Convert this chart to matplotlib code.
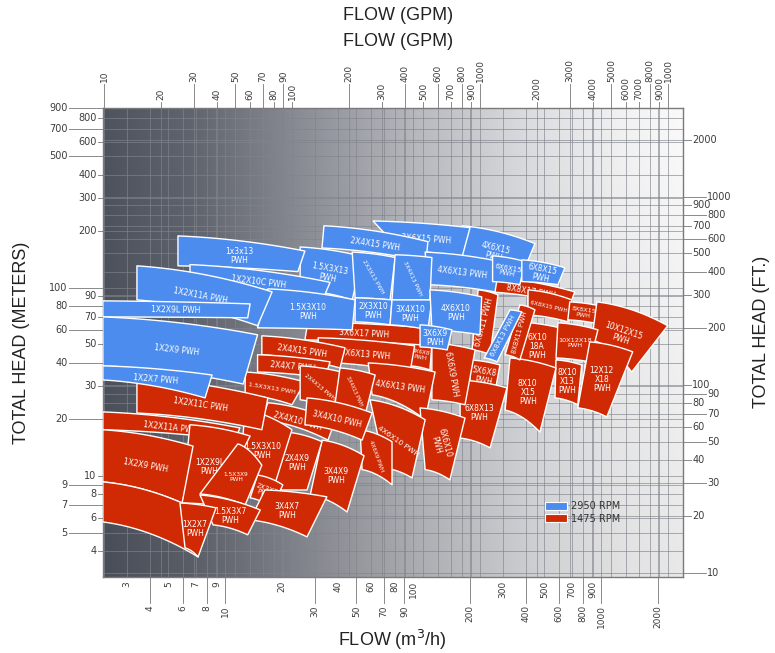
import numpy as np
import matplotlib
matplotlib.use("Agg")
import matplotlib.pyplot as plt
from matplotlib.patches import Polygon, Patch
import matplotlib.transforms as mtransforms

# ---------------- data ----------------
tile_names = [
    "8X8X17 PWH", "6X8X15 PWH", "8X8X15\nPWH", "10X12X15\nPWH", "6X10\n18A\nPWH",
    "10X12X18\nPWH", "12X12\nX18\nPWH", "8X10\nX13\nPWH", "8X10\nX15\nPWH", "6X6X11 PWH",
    "8X8X11 PWH", "5X6X8\nPWH", "6X8X13\nPWH", "4X6X8\nPWH", "6X6X9 PWH",
    "3X6X17 PWH", "3X6X13 PWH", "4X6X13 PWH", "6X6X10\nPWH", "4X6X10 PWH",
    "4X6X9 PWH", "2X4X15 PWH", "2X4X7 PWH", "1.5X3X13 PWH", "2X4X13 PWH",
    "3X4X13 PWH", "2X4X10 PWH", "3X4X10 PWH", "3X4X9\nPWH", "2X4X9\nPWH",
    "1.5X3X10\nPWH", "2X3X7\nPWH", "3X4X7\nPWH", "1X2X11C PWH", "1X2X11A PWH",
    "1X2X9L\nPWH", "1X2X9 PWH", "", "1.5X3X9\nPWH", "1.5X3X7\nPWH",
    "1X2X7\nPWH",
    "4X6X15\nPWH", "3X6X15 PWH", "2X4X15 PWH", "4X6X13 PWH", "6X6X15\nPWH",
    "6X8X15\nPWH", "1.5X3X13\nPWH", "2X3X13 PWH", "3X4X13 PWH", "2X3X10\nPWH",
    "3X4X10\nPWH", "4X6X10\nPWH", "3X6X9\nPWH", "6X8X13 PWH", "1x3x13\nPWH",
    "1X2X10C PWH", "1.5X3X10\nPWH", "1X2X11A PWH", "1X2X9L PWH", "1X2X9 PWH",
    "1X2X7 PWH",
]
tile_rpm = [1475] * 41 + [2950] * 21

# corner flows (m3/h) and heads (m): top-left, top-right, bottom-right, bottom-left
q_tl = [257, 409, 682, 951, 361, 590, 871, 576, 328, 222,
        370, 201, 178, 96.4, 126, 27.6, 31.3, 57.8, 109, 59.1,
        52.3, 15.7, 14.9, 12.8, 25.1, 40.9, 16.9, 27.3, 32.8, 21.3,
        12.8, 14.9, 16.3, 3.40, 2.24, 6.51, 2.24, 2.24, 11.7, 7.36,
        5.76,
        182, 61.3, 33.6, 116, 265, 379, 25.1, 47.5, 80.3, 49.2,
        77.3, 123, 109, 328, 5.62, 6.51, 16.9, 3.40, 2.24, 2.24,
        2.24]
h_tl = [114, 97.6, 84.2, 84.2, 66.0, 65.2, 51.6, 41.4, 42.4, 97.6,
        81.2, 41.4, 32.4, 52.9, 51.0, 66.0, 54.3, 39.9, 23.0, 25.4,
        17.6, 55.6, 44.1, 35.7, 38.5, 37.5, 24.5, 26.0, 15.5, 17.1,
        22.4, 10.1, 8.42, 33.2, 21.9, 18.7, 17.6, 9.29, 14.8, 7.92,
        7.18,
        214, 227, 214, 155, 148, 141, 165, 155, 150, 88.5,
        86.3, 97.6, 63.6, 76.4, 189, 133, 98.8, 131, 85.3, 70.1,
        38.5]
q_tr = [725, 699, 985, 2264, 604, 963, 1474, 789, 576, 283,
        445, 290, 316, 126, 214, 116, 102, 131, 189, 116,
        77.3, 43.5, 36.2, 26.6, 43.5, 62.9, 38.4, 60.6, 54.9, 32.8,
        22.7, 20.3, 34.8, 16.9, 12.0, 13.6, 6.76, 5.91, 15.7, 15.4,
        8.96,
        445, 201, 120, 290, 394, 642, 53.6, 80.3, 126, 77.3,
        126, 232, 161, 379, 26.6, 36.2, 49.2, 17.8, 13.6, 14.9,
        8.53]
h_tr = [95.2, 86.3, 80.2, 62.9, 61.3, 59.8, 45.7, 38.9, 37.5, 91.8,
        76.4, 38.9, 29.4, 50.4, 46.8, 61.3, 49.2, 35.7, 20.3, 19.9,
        15.2, 48.0, 40.4, 31.6, 35.3, 34.4, 19.6, 21.6, 12.8, 15.2,
        17.6, 8.96, 7.74, 26.0, 18.0, 16.3, 14.4, 7.18, 11.4, 6.59,
        6.76,
        172, 209, 176, 138, 138, 128, 147, 145, 145, 86.3,
        86.3, 89.6, 59.8, 74.5, 157, 107, 86.3, 95.2, 82.2, 56.3,
        34.4]
q_br = [682, 666, 951, 1456, 569, 871, 1073, 752, 473, 257,
        370, 273, 257, 123, 189, 109, 96.4, 116, 157, 98.8,
        77.3, 40.9, 34.0, 22.7, 37.1, 55.6, 35.3, 53.6, 44.6, 27.3,
        17.8, 17.8, 27.3, 15.7, 11.3, 8.85, 5.91, 7.19, 12.8, 13.2,
        7.19,
        370, 182, 117, 273, 370, 590, 47.5, 75.5, 123, 75.5,
        120, 227, 152, 280, 24.4, 33.6, 47.5, 14.9, 13.2, 12.5,
        7.83]
h_br = [81.2, 66.0, 64.6, 35.7, 34.4, 40.4, 20.6, 23.9, 17.1, 44.1,
        41.4, 28.0, 14.1, 36.6, 23.9, 49.8, 35.7, 19.9, 9.52, 9.76,
        8.96, 37.5, 33.2, 23.9, 22.4, 21.1, 15.5, 15.5, 6.43, 8.42,
        8.12, 6.76, 4.74, 17.6, 15.5, 7.01, 7.18, 3.71, 7.01, 4.86,
        3.71,
        110, 145, 138, 95.2, 104, 104, 86.3, 86.3, 86.3, 63.6,
        59.8, 56.3, 46.8, 40.4, 122, 89.6, 59.8, 62.9, 69.3, 30.8,
        26.0]
q_bl = [257, 409, 666, 893, 349, 576, 752, 569, 309, 206,
        309, 201, 178, 96.4, 126, 26.6, 31.3, 60.6, 116, 71.0,
        53.6, 15.7, 14.9, 12.8, 25.1, 38.4, 15.7, 26.6, 28.4, 18.0,
        12.0, 13.6, 13.6, 3.40, 2.24, 5.91, 2.24, 2.24, 7.36, 8.64,
        6.13,
        182, 85.3, 32.8, 120, 265, 379, 25.1, 49.2, 77.3, 49.2,
        75.5, 126, 109, 239, 5.62, 6.51, 14.9, 3.40, 2.24, 2.24,
        2.24]
h_bl = [95.2, 71.8, 67.6, 52.9, 41.4, 42.4, 23.0, 26.0, 22.4, 46.8,
        44.1, 29.4, 15.9, 38.5, 25.4, 52.9, 40.4, 27.0, 10.8, 11.0,
        10.8, 44.1, 35.7, 27.0, 25.4, 23.9, 19.9, 18.7, 7.92, 8.42,
        10.8, 7.64, 5.83, 21.6, 17.6, 7.18, 9.29, 5.69, 8.02, 5.49,
        4.14,
        138, 159, 163, 104, 108, 108, 97.6, 88.5, 86.3, 66.0,
        63.6, 59.8, 48.5, 42.4, 131, 104, 61.3, 86.3, 70.1, 38.5,
        32.4]

# label rotation (None = follow the top edge of the tile)
label_rot = [None, None, None, None, 0, 0, 0, 0, 0, 75,
             75, None, 0, None, -80, None, None, None, -75, -35,
             -70, None, None, None, -40, -65, None, None, 0, 0,
             0, -20, 0, None, None, 0, None, None, 0, 0,
             0,
             None, None, None, None, None, None, -10, -60, -65, 0,
             0, 0, 0, 62, 0, None, 0, None, None, None,
             None]

flow_row1 = [3, 5, 7, 9, 20, 40, 60, 80, 100, 300, 500, 700, 900]
flow_row2 = [4, 6, 8, 10, 30, 50, 70, 90, 200, 400, 600, 800, 1000, 2000]
gpm_row1 = [10, 30, 50, 70, 90, 200, 400, 600, 800, 1000, 3000, 5000, 8000, 10000]
gpm_row1_labels = ["10", "30", "50", "70", "90", "200", "400", "600", "800",
                   "1000", "3000", "5000", "8000", "1000"]
gpm_row2 = [20, 40, 60, 80, 100, 300, 500, 700, 900, 2000, 4000, 6000, 7000, 9000]
head_m_far = [900, 700, 500, 100, 80, 60, 40, 20, 9, 7, 5]
head_m_near = [800, 600, 400, 300, 200, 90, 70, 50, 30, 10, 8, 6, 4]
head_ft_near = [2000, 900, 700, 500, 300, 100, 80, 60, 40, 20]
head_ft_far = [1000, 800, 600, 400, 200, 90, 70, 50, 30, 10]
legend_labels = ["2950 RPM", "1475 RPM"]

M3H_PER_GPM = 1 / 4.403
M_PER_FT = 1 / 3.281

# ---------------- style ----------------
BLUE = "#4b8cee"
RED = "#d02a05"
colors = {2950: BLUE, 1475: RED}
TXT = "#3c3c3c"

fig = plt.figure(figsize=(7.75, 6.53), dpi=100)
ax = fig.add_axes([103 / 775, 1 - 577 / 653, 580 / 775, 469 / 653])
ax.set_xscale("log")
ax.set_yscale("log")
ax.set_xlim(2.244, 2729)
ax.set_ylim(2.90, 905)
ax.set_xticks([])
ax.set_yticks([])
ax.minorticks_off()
for s in ax.spines.values():
    s.set_color("#7a7a7a")
    s.set_linewidth(1.0)

# background gradient
stops = [(0.0, (78, 83, 94)), (0.15, (96, 100, 110)), (0.35, (140, 143, 150)),
         (0.55, (185, 187, 192)), (0.75, (222, 223, 226)), (0.9, (242, 242, 243)),
         (1.0, (250, 250, 250))]
fx = np.linspace(0, 1, 400)
sx = [s[0] for s in stops]
base = np.stack([np.interp(fx, sx, [s[1][c] for s in stops]) for c in range(3)], axis=-1) / 255
fy = np.linspace(1, 0, 60)[:, None, None]
img = base[None, :, :] * (0.93 + 0.07 * fy)
ax.imshow(np.clip(img, 0, 1), extent=[0, 1, 0, 1], transform=ax.transAxes,
          aspect="auto", zorder=0, interpolation="bilinear")

# grid
gcol = "#80848c"
for q in flow_row1 + flow_row2:
    ax.axvline(q, color=gcol, lw=0.6, alpha=0.75, zorder=1)
for g in gpm_row1 + gpm_row2:
    ax.axvline(g * M3H_PER_GPM, color=gcol, lw=0.6, alpha=0.75, zorder=1)
for h in head_m_far + head_m_near:
    ax.axhline(h, color=gcol, lw=0.6, alpha=0.75, zorder=1)
for f in head_ft_near + head_ft_far:
    ax.axhline(f * M_PER_FT, color=gcol, lw=0.6, alpha=0.75, zorder=1)


def edge(q0, h0, q1, h1, n=30):
    t = np.linspace(0, 1, n)
    lq = np.log10(q0) + (np.log10(q1) - np.log10(q0)) * t
    s = 0.35 * t + 0.65 * t ** 2
    lh = np.log10(h0) + (np.log10(h1) - np.log10(h0)) * s
    return 10 ** lq, 10 ** lh


for i, name in enumerate(tile_names):
    tq, th = edge(q_tl[i], h_tl[i], q_tr[i], h_tr[i])
    bq, bh = edge(q_bl[i], h_bl[i], q_br[i], h_br[i])
    xs = np.concatenate([tq, bq[::-1]])
    ys = np.concatenate([th, bh[::-1]])
    z = 2 + i * 0.02
    poly = Polygon(np.column_stack([xs, ys]), closed=True, facecolor=colors[tile_rpm[i]],
                   edgecolor="white", lw=1.0, joinstyle="round", zorder=z)
    ax.add_patch(poly)
    if not name:
        continue
    # label
    lq = np.mean(np.log10([q_tl[i], q_tr[i], q_br[i], q_bl[i]]))
    lh = np.mean(np.log10([h_tl[i], h_tr[i], h_br[i], h_bl[i]]))
    p_tl = ax.transData.transform((q_tl[i], h_tl[i]))
    p_tr = ax.transData.transform((q_tr[i], h_tr[i]))
    p_bl = ax.transData.transform((q_bl[i], h_bl[i]))
    rot = label_rot[i]
    if rot is None:
        rot = np.degrees(np.arctan2(p_tr[1] - p_tl[1], p_tr[0] - p_tl[0]))
    nchar = max(len(s) for s in name.split("\n"))
    if abs(rot) > 45:
        span = np.hypot(*(p_tl - p_bl))
    else:
        span = np.hypot(*(p_tr - p_tl))
    fs = float(np.clip(span * 0.78 / (0.85 * nchar), 3.6, 5.5))
    ax.text(10 ** lq, 10 ** lh, name, color="white", fontsize=fs, rotation=rot,
            ha="center", va="center", ma="center", zorder=z + 0.01,
            family="DejaVu Sans", linespacing=1.0, rotation_mode="anchor")

# ---------------- ticks outside ----------------
bx = mtransforms.blended_transform_factory(ax.transData, ax.transAxes)
by = mtransforms.blended_transform_factory(ax.transAxes, ax.transData)
tcol = "#8a8a8a"
tfs = 6.5

for q in flow_row1:
    ax.text(q, -0.008, str(q), transform=bx, rotation=90, ha="center", va="top",
            fontsize=tfs, color=TXT, clip_on=False)
for q in flow_row2:
    ax.plot([q, q], [0, -0.055], transform=bx, color=tcol, lw=0.7, clip_on=False)
    ax.text(q, -0.060, str(q), transform=bx, rotation=90, ha="center", va="top",
            fontsize=tfs, color=TXT, clip_on=False)

for g, lab in zip(gpm_row1, gpm_row1_labels):
    q = g * M3H_PER_GPM
    ax.plot([q, q], [1, 1.052], transform=bx, color=tcol, lw=0.7, clip_on=False)
    ax.text(q, 1.055, lab, transform=bx, rotation=90, ha="center", va="bottom",
            fontsize=tfs, color=TXT, clip_on=False)
for g in gpm_row2:
    q = g * M3H_PER_GPM
    ax.plot([q, q], [1, 1.013], transform=bx, color=tcol, lw=0.7, clip_on=False)
    ax.text(q, 1.016, str(g), transform=bx, rotation=90, ha="center", va="bottom",
            fontsize=tfs, color=TXT, clip_on=False)

for h in head_m_far:
    ax.plot([-0.058, 0], [h, h], transform=by, color=tcol, lw=0.7, clip_on=False)
    ax.text(-0.061, h, str(h), transform=by, ha="right", va="center",
            fontsize=7, color=TXT, clip_on=False)
for h in head_m_near:
    ax.plot([-0.008, 0], [h, h], transform=by, color=tcol, lw=0.7, clip_on=False)
    ax.text(-0.011, h, str(h), transform=by, ha="right", va="center",
            fontsize=7, color=TXT, clip_on=False)

for f in head_ft_near:
    h = f * M_PER_FT
    ax.plot([1, 1.013], [h, h], transform=by, color=tcol, lw=0.7, clip_on=False)
    ax.text(1.016, h, str(f), transform=by, ha="left", va="center",
            fontsize=7, color=TXT, clip_on=False)
for f in head_ft_far:
    h = f * M_PER_FT
    ax.plot([1, 1.039], [h, h], transform=by, color=tcol, lw=0.7, clip_on=False)
    ax.text(1.042, h, str(f), transform=by, ha="left", va="center",
            fontsize=7, color=TXT, clip_on=False)

# ---------------- titles ----------------
tfont = dict(family="Liberation Sans", fontsize=13, color="#222222")
fig.text(398 / 775, 1 - 15 / 653, "FLOW (GPM)", ha="center", va="center", **tfont)
fig.text(398 / 775, 1 - 42 / 653, "FLOW (GPM)", ha="center", va="center", **tfont)
fig.text(392 / 775, 1 - 640 / 653, "FLOW (m$^3$/h)", ha="center", va="center", **tfont)
fig.text(22 / 775, 1 - 343 / 653, "TOTAL HEAD (METERS)", rotation=90,
         ha="center", va="center", **tfont)
fig.text(762 / 775, 1 - 332 / 653, "TOTAL HEAD (FT.)", rotation=90,
         ha="center", va="center", **tfont)

# ---------------- legend ----------------
handles = [Patch(facecolor=BLUE, edgecolor="white", lw=0.8),
           Patch(facecolor=RED, edgecolor="white", lw=0.8)]
leg = ax.legend(handles, legend_labels, loc="upper left", bbox_to_anchor=(0.755, 0.17),
                frameon=False, fontsize=7, handlelength=2.3, handleheight=0.9,
                labelspacing=0.25, handletextpad=0.4, borderaxespad=0)
leg.set_zorder(10)
for t in leg.get_texts():
    t.set_color("#333333")

fig.savefig("out.png", dpi=100)
